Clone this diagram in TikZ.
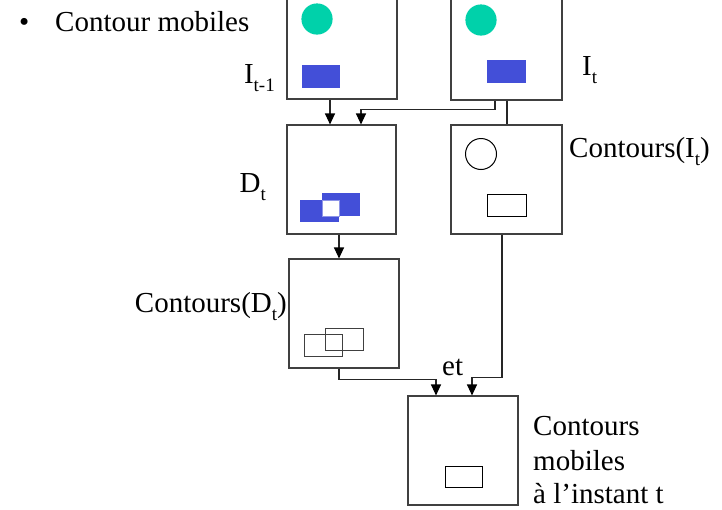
\documentclass[tikz,border=0pt]{standalone}
\usepackage{fontspec}
\setmainfont{Liberation Serif}
\usetikzlibrary{arrows.meta}
\definecolor{teal1}{RGB}{0,209,170}
\definecolor{blue1}{RGB}{67,79,216}
\newcommand{\lowsub}[1]{\raisebox{-0.28em}{\fontsize{19}{19}\selectfont #1}}
\tikzset{
  frame/.style={draw=black!75, line width=1.1pt, inner sep=0pt, minimum width=110pt, minimum height=110pt},
  conn/.style={draw=black!85, line width=1.1pt},
  arr/.style={conn, -{Triangle[length=11pt,width=10pt,fill=black,color=black]}},
  lbl/.style={inner sep=0pt, font=\fontsize{29}{34}\selectfont},
  outl/.style={draw=black, line width=1pt},
}
\begin{document}
\begin{tikzpicture}[x=1pt,y=-1pt]
\useasboundingbox (0,0) rectangle (722,509);
\clip (0,0) rectangle (722,509);
\fill[white] (0,0) rectangle (722,509);
% boxes
\node[frame] (A) at (342,44) {};
\node[frame, minimum width=111pt, minimum height=111pt] (B) at (506.5,44.5) {};
\node[frame, minimum width=109pt, minimum height=109pt] (C) at (341.5,179.5) {};
\node[frame, minimum width=111pt, minimum height=109pt] (D) at (506.5,179.5) {};
\node[frame, minimum height=109pt] (E) at (344,313.5) {};
\node[frame, minimum height=109pt] (F) at (463,450.5) {};
% contents A
\fill[teal1] (317,19) circle (15.6);
\fill[blue1] (302,65) rectangle (340,88);
% contents B
\fill[teal1] (481,20) circle (15.6);
\fill[blue1] (487,60) rectangle (526,83);
% contents C
\fill[blue1] (300,200) rectangle (339,222);
\fill[blue1] (322,193) rectangle (360,216);
\fill[white] (322,200) rectangle (339,216);
\draw[blue1!60, line width=0.6pt] (322,200) rectangle (339,216);
% contents D
\draw[outl] (481,154) circle (15.5);
\draw[outl] (487,194) rectangle (526,216);
% contents E
\draw[outl, draw=black!75] (304,334) rectangle (342,356);
\draw[outl, draw=black!75] (325,328) rectangle (363,350);
% contents F
\draw[outl] (445,466) rectangle (482,487);
% connectors
\draw[arr] ([xshift=-12pt]A.south) -- ([xshift=-12pt]A.south |- C.north);
\draw[arr] ([xshift=-11.5pt]B.south) -- ++(0,9) -| ([xshift=19.5pt]C.north);
\draw[conn] ([xshift=0.5pt]B.south) -- ([xshift=0.5pt]B.south |- D.north);
\draw[arr] ([xshift=-2.5pt]C.south) -- ([xshift=-2.5pt]C.south |- E.north);
\draw[arr] ([xshift=-5pt]E.south) -- ++(0,11) -| ([xshift=-27pt]F.north);
\draw[arr] ([xshift=-4.5pt]D.south) -- ++(0,143) -| ([xshift=9pt]F.north);
% labels
\node[lbl, anchor=base west] (title) at (55,31) {Contour mobiles};
\node[lbl, anchor=base west] (bullet) at (19,31) {•};
\node[lbl, anchor=base east] (lA) at (275,83) {I\lowsub{t-1}};
\node[lbl, anchor=base west] (lB) at (582,75) {I\lowsub{t}};
\node[lbl, anchor=base east] (lC) at (266,192) {D\lowsub{t}};
\node[lbl, anchor=base west] (lD) at (569,157) {Contours(I\lowsub{t})};
\node[lbl, anchor=base east] (lE) at (287,312) {Contours(D\lowsub{t})};
\node[lbl, anchor=base west] (et) at (442,375) {et};
\node[lbl, anchor=base west] (lF1) at (533,435) {Contours};
\node[lbl, anchor=base west] (lF2) at (533,470) {mobiles};
\node[lbl, anchor=base west] (lF3) at (533,503) {à l’instant t};
\end{tikzpicture}
\end{document}
